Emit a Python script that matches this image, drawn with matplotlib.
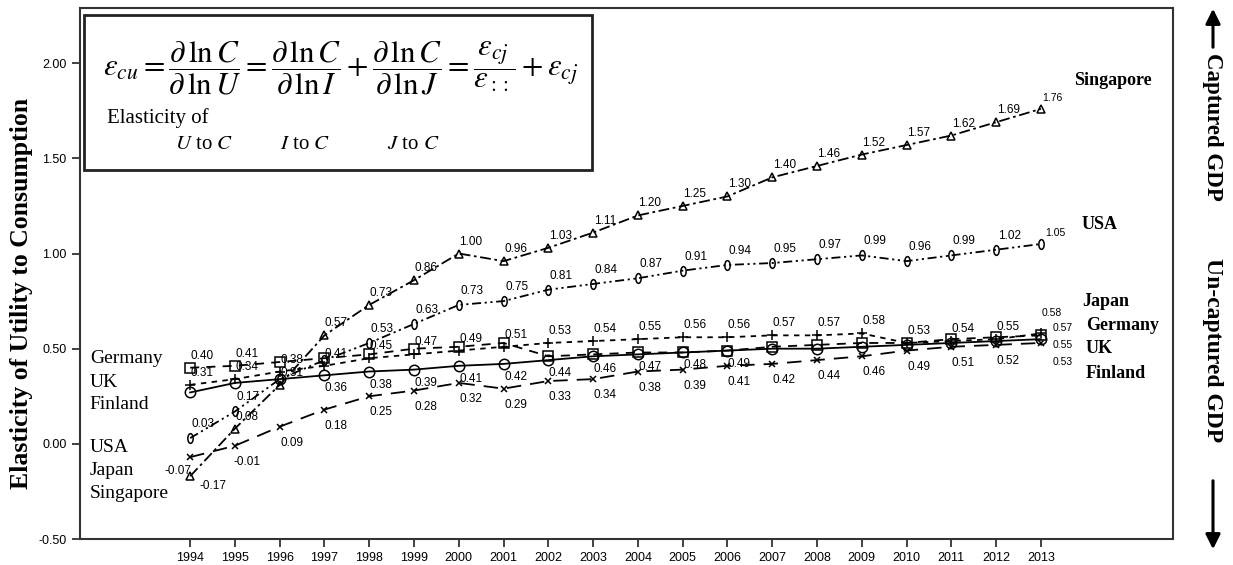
import matplotlib
matplotlib.use("Agg")
import matplotlib.pyplot as plt
import numpy as np
from matplotlib.path import Path
from matplotlib.patches import Rectangle

plt.rcParams['mathtext.fontset'] = 'stix'
plt.rcParams['font.family'] = 'Liberation Sans'

years = list(range(1994, 2014))

singapore = [-0.17, 0.08, 0.31, 0.57, 0.73, 0.86, 1.00, 0.96, 1.03, 1.11,
             1.20, 1.25, 1.30, 1.40, 1.46, 1.52, 1.57, 1.62, 1.69, 1.76]
usa = [0.03, 0.17, 0.34, 0.44, 0.53, 0.63, 0.73, 0.75, 0.81, 0.84,
       0.87, 0.91, 0.94, 0.95, 0.97, 0.99, 0.96, 0.99, 1.02, 1.05]
japan = [0.31, 0.34, 0.38, 0.41, 0.45, 0.47, 0.49, 0.51, 0.53, 0.54,
         0.55, 0.56, 0.56, 0.57, 0.57, 0.58, 0.53, 0.54, 0.55, 0.58]
germany = [0.40, 0.41, 0.43, 0.45, 0.47, 0.50, 0.51, 0.53, 0.46, 0.47,
           0.48, 0.48, 0.49, 0.51, 0.52, 0.53, 0.53, 0.55, 0.56, 0.57]
uk = [0.27, 0.32, 0.34, 0.36, 0.38, 0.39, 0.41, 0.42, 0.44, 0.46,
      0.47, 0.48, 0.49, 0.50, 0.50, 0.51, 0.52, 0.53, 0.54, 0.55]
finland = [-0.07, -0.01, 0.09, 0.18, 0.25, 0.28, 0.32, 0.29, 0.33, 0.34,
           0.38, 0.39, 0.41, 0.42, 0.44, 0.46, 0.49, 0.51, 0.52, 0.53]

# which value labels are printed on the chart (1 = shown)
singapore_show = [1] * 20
usa_show = [1, 1, 0, 0] + [1] * 16
japan_show = [1] * 20
germany_show = [1, 1] + [0] * 17 + [1]
uk_show = [0, 0, 0] + [1] * 10 + [0] * 6 + [1]
finland_show = [1] * 20

yticks = [-0.5, 0.0, 0.5, 1.0, 1.5, 2.0]

# narrow oval marker for the USA line
circ = Path.unit_circle()
oval = Path(circ.vertices * np.array([0.55, 1.0]), circ.codes)

series = [
    ("Singapore", singapore, singapore_show,
     dict(marker='^', ls=(0, (6, 2, 1.5, 2)), ms=6), (12, 12)),
    ("USA", usa, usa_show,
     dict(marker=oval, ls=(0, (5, 2, 1.2, 2, 1.2, 2)), ms=7), (13, 14)),
    ("Japan", japan, japan_show,
     dict(marker='+', ls=(0, (3, 3)), ms=7), (12, 12)),
    ("Germany", germany, germany_show,
     dict(marker='s', ls=(0, (5, 4)), ms=7), (12, 12)),
    ("UK", uk, uk_show,
     dict(marker='o', ls='-', ms=7.5), (12, -13)),
    ("Finland", finland, finland_show,
     dict(marker='x', ls=(0, (8, 5)), ms=5), (12, -16)),
]
# offsets of the last (2013) labels, which SPSS prints smaller
end_off = {"Singapore": (11, 11), "USA": (14, 11), "Japan": (11, 20),
           "Germany": (22, 7), "UK": (22, -6), "Finland": (22, -19)}

fig = plt.figure(figsize=(12.33, 5.65), dpi=100)
ax = fig.add_axes([80 / 1233, 26 / 565, 1093 / 1233, 531 / 565])

for name, vals, show, st, off in series:
    ax.plot(years, vals, color='black', lw=1.3, mfc='none', mec='black',
            mew=1.1, **st)
    for i, (x, v) in enumerate(zip(years, vals)):
        if not show[i]:
            continue
        o = off
        fs = 8.5
        if i == len(vals) - 1:
            o = end_off[name]
            fs = 7.5
        if name == "Singapore" and i == 0:
            o = (23, -10)
        if name == "Finland" and i == 0:
            o = (-12, -14)
        ax.annotate(f"{v:.2f}", (x, v), xytext=o, textcoords='offset pixels',
                    ha='center', va='center', fontsize=fs)

ax.set_xlim(1991.54, 2015.95)
ax.set_ylim(-0.5, 2.29)
ax.set_xticks(years)
ax.set_xticklabels([str(y) for y in years], fontsize=9)
ax.set_yticks(yticks)
ax.set_yticklabels([f"{t:.2f}" for t in yticks], fontsize=9)
ax.tick_params(direction='out', length=6, width=1.3, color='#333333')
for s in ax.spines.values():
    s.set_linewidth(1.5)
    s.set_color('#333333')

serif = 'Liberation Serif'
fig.text(22 / 1233, 1 - 293 / 565, "Elasticity of Utility to Consumption",
         family=serif, fontweight='bold', fontsize=18.5, rotation=90,
         ha='center', va='center')

# country names, left and right of the lines
left_names = [("Germany", 0.45), ("UK", 0.32), ("Finland", 0.205),
              ("USA", -0.02), ("Japan", -0.14), ("Singapore", -0.26)]
for n, yv in left_names:
    ax.text(1991.76, yv, n, family=serif, fontsize=14, va='center', ha='left')
right_names = [("Singapore", 2013.75, 1.91), ("USA", 2013.9, 1.15),
               ("Japan", 2013.93, 0.75), ("Germany", 2014.0, 0.62),
               ("UK", 2014.0, 0.50), ("Finland", 2014.0, 0.37)]
for n, xv, yv in right_names:
    ax.text(xv, yv, n, family=serif, fontweight='bold', fontsize=13,
            va='center', ha='left')

# formula box
ax.add_patch(Rectangle((0.0037, 0.695), 0.4645, 0.292, transform=ax.transAxes,
                       fill=False, lw=2, ec='#222222'))
formula = (r"$\varepsilon_{cu}=\dfrac{\partial\,\ln C}{\partial\,\ln U}"
           r"=\dfrac{\partial\,\ln C}{\partial\,\ln I}+"
           r"\dfrac{\partial\,\ln C}{\partial\,\ln J}"
           r"=\dfrac{\varepsilon_{cj}}{\varepsilon_{::}}+\varepsilon_{cj}$")
ax.text(0.021, 0.886, formula, transform=ax.transAxes, fontsize=22.3,
        va='center', ha='left')
ax.text(0.025, 0.793, "Elasticity of", transform=ax.transAxes, family=serif,
        fontsize=15, va='center')
for xa, sym in [(0.087, 'U'), (0.183, 'I'), (0.281, 'J')]:
    ax.text(xa, 0.742, f"${sym}$ to $C$", transform=ax.transAxes, family=serif,
            fontsize=15, va='center')

# right margin: captured / un-captured GDP
fig.text(1213 / 1233, 1 - 127 / 565, "Captured GDP", family=serif,
         fontweight='bold', fontsize=16.5, rotation=-90, ha='center', va='center')
fig.text(1213 / 1233, 1 - 350 / 565, "Un-captured GDP", family=serif,
         fontweight='bold', fontsize=17, rotation=-90, ha='center', va='center')
ax.annotate('', xy=(1213, 565 - 6), xytext=(1213, 565 - 50),
            xycoords='figure pixels', textcoords='figure pixels',
            arrowprops=dict(arrowstyle='-|>', lw=2.2, color='black',
                            mutation_scale=22))
ax.annotate('', xy=(1213, 565 - 552), xytext=(1213, 565 - 478),
            xycoords='figure pixels', textcoords='figure pixels',
            arrowprops=dict(arrowstyle='-|>', lw=2.2, color='black',
                            mutation_scale=22))

fig.savefig("out.png", dpi=100)
